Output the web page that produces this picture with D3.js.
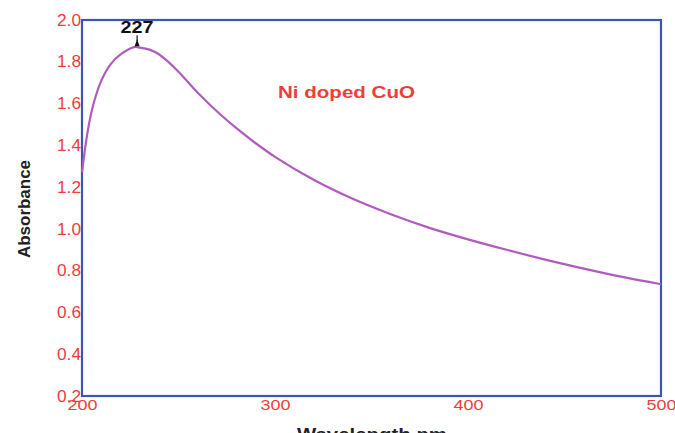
<!DOCTYPE html>
<html><head><meta charset="utf-8">
<script src="https://cdn.jsdelivr.net/npm/d3@7"></script>
<style>html,body{margin:0;padding:0;background:#fff;overflow:hidden}</style>
</head><body>
<svg id="chart" width="675" height="433"></svg>
<script>
const wavelength = [200,203,206,210,215,220,227,230,235,240,245,250,255,260,270,280,290,300,320,340,360,380,400,420,440,460,480,500];
const absorbance = [1.27,1.47,1.60,1.71,1.79,1.835,1.87,1.868,1.858,1.835,1.797,1.752,1.702,1.652,1.562,1.482,1.41,1.345,1.235,1.145,1.07,1.005,0.95,0.90,0.853,0.81,0.77,0.735];
const xTicks = [200,300,400,500];
const yTicks = [0.2,0.4,0.6,0.8,1.0,1.2,1.4,1.6,1.8,2.0];
const peakLabel = "227";
const peakX = 227, peakY = 1.87;
const seriesName = "Ni doped CuO";
const xTitle = "Wavelength nm";
const yTitle = "Absorbance";

const W = 675, H = 433;
const m = {left:82, right:14, top:20, bottom:37};
const svg = d3.select("#chart");
const x = d3.scaleLinear().domain([200,500]).range([m.left, W-m.right]);
const y = d3.scaleLinear().domain([0.2,2.0]).range([H-m.bottom, m.top]);
const font = "'Liberation Sans', Arial, sans-serif";
const red = "#f23c3c";
const blue = "#3d54b3";

// y tick labels
const ya = svg.append("g").attr("transform",`translate(${m.left},0)`)
  .call(d3.axisLeft(y).tickValues(yTicks).tickFormat(d3.format(".1f")).tickSize(0).tickPadding(1));
ya.select(".domain").remove();
ya.selectAll("text").attr("fill",red).attr("font-family",font).attr("font-size",16)
  .attr("textLength",24).attr("lengthAdjust","spacingAndGlyphs");

// x tick labels
const xa = svg.append("g").attr("transform",`translate(0,${H-m.bottom})`)
  .call(d3.axisBottom(x).tickValues(xTicks).tickFormat(d3.format("d")).tickSize(0).tickPadding(3));
xa.select(".domain").remove();
xa.selectAll("text").attr("fill",red).attr("font-family",font).attr("font-size",15)
  .attr("textLength",30).attr("lengthAdjust","spacingAndGlyphs");

// frame
svg.append("rect").attr("x",x(200)).attr("y",y(2.0))
  .attr("width",x(500)-x(200)).attr("height",y(0.2)-y(2.0))
  .attr("fill","none").attr("stroke",blue).attr("stroke-width",2.2);

// curve
const data = wavelength.map((w,i)=>[w,absorbance[i]]);
svg.append("path").datum(data)
  .attr("d", d3.line().x(d=>x(d[0])).y(d=>y(d[1])).curve(d3.curveCatmullRom.alpha(0.5)))
  .attr("fill","none").attr("stroke","#b05cbf").attr("stroke-width",2.2);

// peak annotation
const px = x(peakX)+3, py = y(peakY);
svg.append("path")
  .attr("d",`M${px},${py-8} L${px-2.5},${py-1} L${px+2.5},${py-1} Z`)
  .attr("fill","#111");
svg.append("line").attr("x1",px).attr("x2",px).attr("y1",py-12).attr("y2",py-6)
  .attr("stroke","#111").attr("stroke-width",1.2);
svg.append("text").attr("x",px).attr("y",py-14).attr("text-anchor","middle")
  .attr("font-family",font).attr("font-weight","bold").attr("font-size",16).attr("fill","#111")
  .attr("textLength",33).attr("lengthAdjust","spacingAndGlyphs").text(peakLabel);

// series label
svg.append("text").attr("x",278).attr("y",98)
  .attr("font-family",font).attr("font-weight","bold").attr("font-size",16.5).attr("fill",red)
  .attr("textLength",137).attr("lengthAdjust","spacingAndGlyphs").text(seriesName);

// axis titles
svg.append("text").attr("x",297).attr("y",440)
  .attr("font-family",font).attr("font-weight","bold").attr("font-size",17).attr("fill","#222")
  .attr("textLength",150).attr("lengthAdjust","spacingAndGlyphs").text(xTitle);
svg.append("text").attr("transform","translate(30,209) rotate(-90)").attr("text-anchor","middle")
  .attr("font-family",font).attr("font-weight","bold").attr("font-size",16).attr("fill","#222")
  .attr("textLength",98).attr("lengthAdjust","spacingAndGlyphs").text(yTitle);
</script>
</body></html>
